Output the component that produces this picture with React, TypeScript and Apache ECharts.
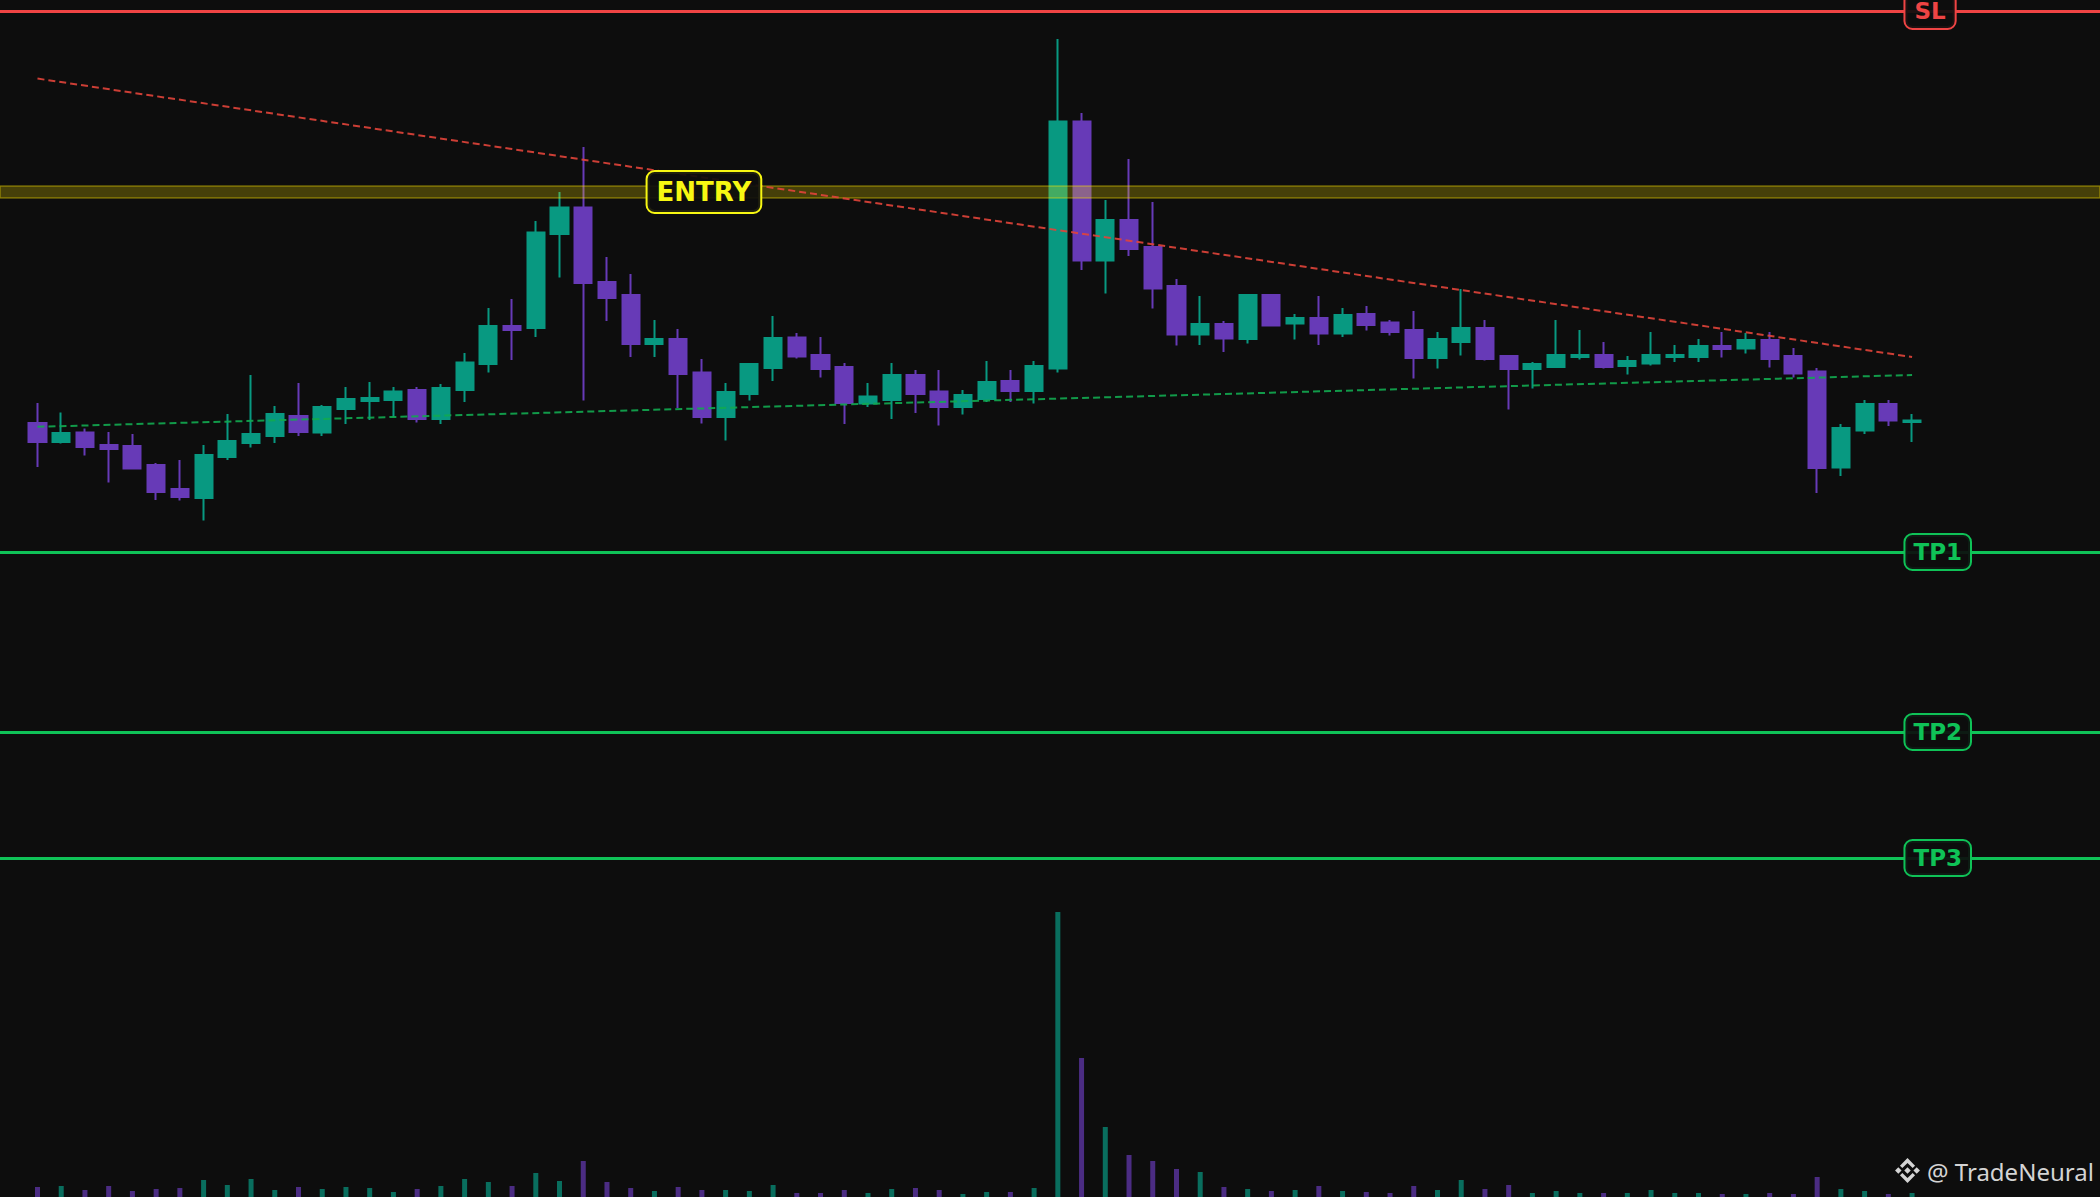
import React, { useEffect, useRef } from "react";
import * as echarts from "echarts";

// ---------- data ----------
const opens = [
  138.45, 137.5, 137.98, 137.35, 137.3, 136.35, 135.15, 134.7, 136.75, 137.45,
  137.8, 138.8, 137.98, 139.15, 139.55, 139.6, 140.1, 138.65, 140.1, 141.4,
  143.3, 143.2, 147.9, 149.23, 145.5, 144.85, 142.4, 142.65, 140.98, 138.75,
  139.9, 141.2, 142.73, 141.85, 141.25, 139.42, 139.6, 140.85, 140.03, 139.25,
  139.65, 140.55, 140.05, 141.17, 153.53, 146.57, 148.6, 147.25, 145.3, 142.87,
  143.4, 142.65, 144.85, 143.42, 143.7, 142.92, 143.9, 143.48, 143.1, 141.7,
  142.5, 143.2, 141.8, 141.15, 141.25, 141.75, 141.85, 141.3, 141.42, 141.75,
  141.75, 142.3, 142.17, 142.6, 141.8, 141.03, 136.23, 138.07, 139.4, 138.5,
];
const closes = [
  137.5, 137.95, 137.25, 137.15, 136.17, 135.0, 134.75, 136.85, 137.55, 137.9,
  138.9, 138.0, 139.25, 139.65, 139.7, 140.03, 138.65, 140.2, 141.48, 143.3,
  143.1, 147.98, 149.23, 145.45, 144.7, 142.4, 142.65, 140.9, 138.75, 140.0,
  141.4, 142.7, 141.78, 141.15, 139.45, 139.78, 140.85, 139.9, 139.25, 139.85,
  140.5, 140.05, 141.3, 153.53, 146.57, 148.6, 147.15, 145.17, 142.87, 143.4,
  142.67, 144.85, 143.32, 143.7, 142.92, 143.85, 143.35, 143.0, 141.7, 142.65,
  143.2, 141.65, 141.15, 141.4, 141.85, 141.85, 141.25, 141.55, 141.85, 141.85,
  142.3, 142.15, 142.6, 141.65, 140.92, 136.2, 138.2, 139.4, 138.57, 138.57,
];
const lows = [
  136.25, 137.42, 136.82, 135.48, 136.15, 134.6, 134.57, 133.57, 136.6, 137.23,
  137.45, 137.8, 137.8, 138.4, 138.6, 138.75, 138.48, 138.4, 139.5, 140.98,
  141.6, 142.75, 145.73, 139.57, 143.55, 141.75, 141.75, 139.2, 138.42, 137.57,
  139.57, 140.55, 141.67, 140.73, 138.4, 139.25, 138.65, 138.95, 138.32, 138.87,
  139.5, 139.5, 139.42, 140.98, 146.1, 144.92, 146.8, 144.17, 142.32, 142.35,
  142.0, 142.42, 143.3, 142.62, 142.35, 142.75, 143.07, 142.82, 140.67, 141.17,
  141.82, 141.57, 139.12, 140.17, 141.25, 141.62, 141.17, 140.87, 141.32, 141.5,
  141.5, 141.73, 141.92, 141.23, 140.73, 134.95, 135.8, 137.9, 138.3, 137.5,
];
const highs = [
  139.45, 138.98, 138.17, 138.0, 137.9, 136.45, 136.6, 137.35, 138.9, 140.85,
  139.3, 140.45, 139.35, 140.25, 140.5, 140.25, 140.25, 140.4, 141.95, 144.2,
  144.65, 148.55, 150.0, 152.25, 146.75, 145.9, 143.6, 143.15, 141.65, 140.45,
  141.45, 143.8, 142.95, 142.75, 141.45, 140.45, 141.45, 141.1, 141.1, 140.1,
  141.55, 141.1, 141.55, 157.65, 153.95, 149.6, 151.65, 149.5, 145.65, 144.8,
  143.55, 144.9, 144.9, 143.9, 144.8, 144.2, 144.3, 143.6, 144.05, 143.0,
  145.15, 143.6, 141.85, 141.5, 143.6, 143.1, 142.5, 141.8, 143.0, 142.35,
  142.65, 143.0, 142.95, 143.0, 142.2, 141.2, 138.4, 139.6, 139.6, 138.9,
];
const volumes = [
  100, 110, 70, 110, 60, 80, 90, 170, 120, 180,
  70, 100, 80, 100, 90, 50, 80, 110, 180, 150,
  110, 240, 160, 360, 150, 90, 60, 100, 70, 70,
  60, 120, 40, 40, 70, 40, 80, 90, 70, 30,
  50, 50, 90, 2850, 1390, 700, 420, 360, 280, 250,
  100, 80, 60, 70, 110, 60, 50, 40, 110, 70,
  170, 80, 120, 40, 60, 40, 40, 40, 70, 40,
  40, 30, 30, 40, 30, 200, 80, 60, 30, 40,
];

// trade levels
const SL = 159.05;
const ENTRY = 150.0;
const ENTRY_ZONE = [149.7, 150.3];
const TP_NAMES = ["TP1", "TP2", "TP3"];
const TP_VALUES = [132.0, 123.0, 116.7];

// trendlines: [candle index, price]
const resistanceLine = [
  [0, 155.67],
  [79, 141.75],
];
const supportLine = [
  [0, 138.26],
  [79, 140.85],
];

// scales
const PRICE_MIN = 99.75;
const PRICE_MAX = 159.6;
const X_MIN = -1.58;
const X_MAX = 86.92;
const VOLUME_MAX = 3000;
const LEVEL_LABEL_X = 78.7;
const ENTRY_LABEL_X = 25.69;

// ---------- style ----------
const BG = "#0d0d0d";
const UP = "#089981";
const DOWN = "#673ab7";
const VOL_UP = "rgba(8,153,129,0.7)";
const VOL_DOWN = "rgba(103,58,183,0.7)";
const RED = "#ef4444";
const GREEN = "#0fc257";
const YELLOW = "#f7f712";
const LABEL_FONT = "'DejaVu Sans', sans-serif";

export default function App() {
  const ref = useRef<HTMLDivElement>(null);

  useEffect(() => {
    document.body.style.margin = "0";
    document.body.style.background = BG;
    const chart = echarts.init(ref.current as HTMLDivElement, null, { renderer: "svg" });

    const candleData = opens.map((o, i) => [i, o, closes[i], lows[i], highs[i]]);
    const volData = volumes.map((v, i) => ({
      value: [i, v],
      itemStyle: { color: closes[i] >= opens[i] ? VOL_UP : VOL_DOWN },
    }));

    const levelLabel = (text: string, color: string, x: number, y: number, size: number, pad: number[], lh: number) => ({
      coord: [x, y],
      label: {
        formatter: text,
        color,
        borderColor: color,
        fontSize: size,
        lineHeight: lh,
        padding: pad,
      },
    });

    chart.setOption({
      animation: false,
      backgroundColor: BG,
      grid: [
        { left: 0, right: 0, top: 0, bottom: 0 },
        { left: 0, right: 0, bottom: 0, height: 300 },
      ],
      xAxis: [
        { type: "value", gridIndex: 0, min: X_MIN, max: X_MAX, show: false },
        { type: "value", gridIndex: 1, min: X_MIN, max: X_MAX, show: false },
      ],
      yAxis: [
        { type: "value", gridIndex: 0, min: PRICE_MIN, max: PRICE_MAX, show: false },
        { type: "value", gridIndex: 1, min: 0, max: VOLUME_MAX, show: false },
      ],
      series: [
        {
          type: "bar",
          xAxisIndex: 1,
          yAxisIndex: 1,
          data: volData,
          barWidth: 5,
          z: 1,
          silent: true,
        },
        {
          type: "candlestick",
          xAxisIndex: 0,
          yAxisIndex: 0,
          data: candleData,
          barWidth: 17.6,
          z: 2,
          silent: true,
          itemStyle: {
            color: UP,
            color0: DOWN,
            borderColor: UP,
            borderColor0: DOWN,
            borderWidth: 2,
          },
          markArea: {
            silent: true,
            z: 3,
            itemStyle: {
              color: "rgba(255,232,0,0.24)",
              borderColor: "rgba(255,232,0,0.38)",
              borderWidth: 1.5,
            },
            data: [[{ yAxis: ENTRY_ZONE[1] }, { yAxis: ENTRY_ZONE[0] }]],
          },
          markLine: {
            silent: true,
            symbol: ["none", "none"],
            label: { show: false },
            z: 5,
            data: [
              { yAxis: SL, lineStyle: { color: RED, width: 3, type: "solid" } },
              ...TP_VALUES.map((v) => ({ yAxis: v, lineStyle: { color: GREEN, width: 3, type: "solid" } })),
            ],
          },
          markPoint: {
            silent: true,
            z: 10,
            symbol: "circle",
            symbolSize: 1,
            itemStyle: { color: "rgba(0,0,0,0)" },
            label: {
              show: true,
              position: "right",
              distance: 0,
              fontFamily: LABEL_FONT,
              fontWeight: "bold",
              backgroundColor: "rgba(13,13,13,0.92)",
              borderWidth: 2,
              borderRadius: 7,
            },
            data: [
              levelLabel("SL", RED, LEVEL_LABEL_X, SL, 23, [5, 9], 24),
              ...TP_NAMES.map((n, i) => levelLabel(n, GREEN, LEVEL_LABEL_X, TP_VALUES[i], 23, [5, 8], 24)),
              levelLabel("ENTRY", YELLOW, ENTRY_LABEL_X, ENTRY, 26, [6, 9], 28),
            ],
          },
        },
        {
          type: "line",
          xAxisIndex: 0,
          yAxisIndex: 0,
          data: resistanceLine,
          symbol: "none",
          silent: true,
          z: 4,
          lineStyle: { color: "rgba(225,68,58,0.9)", width: 2, type: [7, 4] },
        },
        {
          type: "line",
          xAxisIndex: 0,
          yAxisIndex: 0,
          data: supportLine,
          symbol: "none",
          silent: true,
          z: 4,
          lineStyle: { color: "rgba(18,170,80,0.9)", width: 2, type: [7, 4] },
        },
      ],
      graphic: [
        {
          type: "group",
          x: 1894,
          y: 1157,
          scaleX: 0.27,
          scaleY: 0.27,
          z: 100,
          children: [
            { type: "polygon", shape: { points: [[50, 38], [62, 50], [50, 62], [38, 50]] }, style: { fill: "#d4d4d4" } },
            { type: "polygon", shape: { points: [[16, 38], [28, 50], [16, 62], [4, 50]] }, style: { fill: "#d4d4d4" } },
            { type: "polygon", shape: { points: [[84, 38], [96, 50], [84, 62], [72, 50]] }, style: { fill: "#d4d4d4" } },
            { type: "polygon", shape: { points: [[50, 4], [78, 32], [69, 41], [50, 22], [31, 41], [22, 32]] }, style: { fill: "#d4d4d4" } },
            { type: "polygon", shape: { points: [[50, 96], [22, 68], [31, 59], [50, 78], [69, 59], [78, 68]] }, style: { fill: "#d4d4d4" } },
          ],
        },
        {
          type: "text",
          x: 1927,
          y: 1171,
          z: 100,
          style: {
            text: "@ TradeNeural",
            fill: "#d4d4d4",
            font: "24px 'Noto Sans', sans-serif",
            verticalAlign: "middle",
            align: "left",
          },
        },
      ],
    });

    return () => chart.dispose();
  }, []);

  return (
    <div
      ref={ref}
      style={{ position: "absolute", left: 0, top: 0, width: 2100, height: 1197 }}
    />
  );
}
